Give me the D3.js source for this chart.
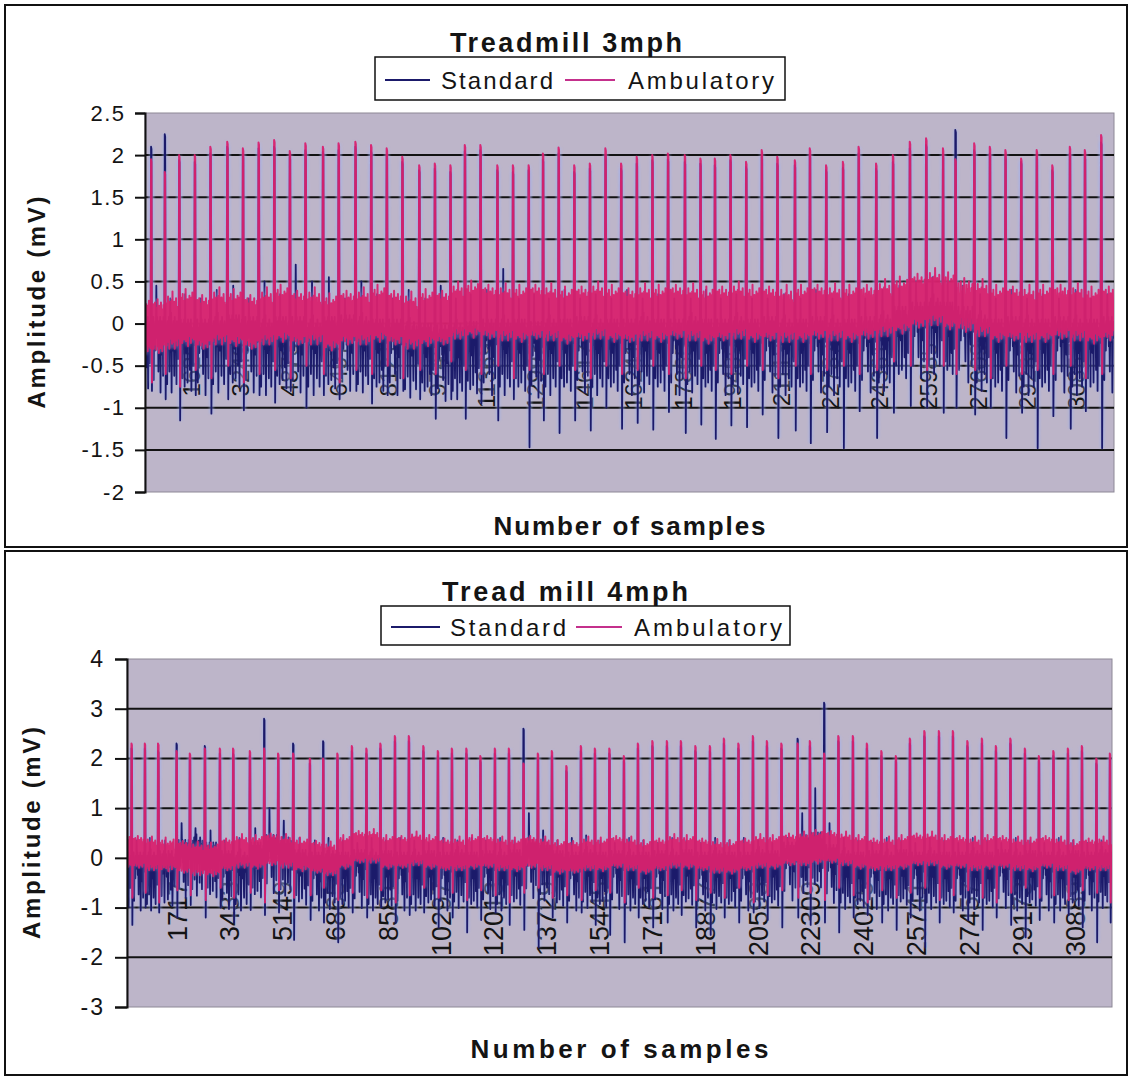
<!DOCTYPE html>
<html>
<head>
<meta charset="utf-8">
<script src="https://cdn.jsdelivr.net/npm/d3@7"></script>
<style>
  body { margin: 0; background: #fff; }
  text { font-family: "Liberation Sans", Arial, sans-serif; fill: #141414; }
</style>
</head>
<body>
<svg id="chart" width="1130" height="1078"></svg>
<script>
// ---------------- data ----------------
const seriesNames = ["Standard", "Ambulatory"];
const sampleCount = 32000;

// Treadmill 3 mph: beat (R-wave) sample positions and per-beat amplitudes in mV
const beats3 = [208,660,1136,1651,2166,2724,3240,3758,4273,4788,5304,5882,6400,6955,7473,7989,8504,9062,9577,10092,
  10568,11083,11641,12156,12675,13147,13665,14181,14696,15211,15729,16245,16760,17275,17833,18348,18824,19339,19857,20373,
  20888,21466,21961,22499,23054,23573,24150,24705,25263,25802,26357,26769,27390,27905,28420,28939,29454,29969,30547,31043,31581];
const amb3R = [1.95,1.8,2.0,2.0,2.1,2.16,2.08,2.15,2.18,2.05,2.14,2.1,2.14,2.16,2.12,2.08,1.98,1.88,1.9,1.88,
  2.12,2.12,1.88,1.88,1.88,2.02,2.09,1.88,1.9,2.08,1.9,1.98,2.0,2.02,2.0,1.96,1.96,2.0,1.92,2.06,
  1.98,1.94,2.08,1.88,1.92,2.1,1.9,2.0,2.16,2.2,2.08,1.95,2.14,2.1,2.06,1.96,2.06,1.88,2.1,2.06,2.24];
const amb3S = [-0.7,-0.6,-0.75,-0.55,-0.65,-0.5,-0.7,-0.6,-0.55,-0.65,-0.5,-0.6,-0.7,-0.55,-0.6,-0.5,-0.65,-0.55,-0.6,-0.45,
  -0.55,-0.6,-0.5,-0.65,-0.55,-0.6,-0.5,-0.55,-0.65,-0.5,-0.6,-0.55,-0.5,-0.6,-0.65,-0.5,-0.55,-0.6,-0.5,-0.55,
  -0.65,-0.5,-0.6,-0.55,-0.5,-0.6,-0.55,-0.45,-0.5,-0.55,-0.5,-0.6,-0.55,-0.65,-0.5,-0.6,-0.55,-0.6,-0.5,-0.65,-0.6];
const amb3Base = [-0.05,0.0,0.05,0.0,0.05,0.05,0.0,0.05,0.1,0.05,0.05,0.0,0.05,0.05,0.1,0.05,0.0,0.05,0.05,0.12,
  0.15,0.12,0.1,0.1,0.12,0.1,0.08,0.1,0.12,0.1,0.08,0.1,0.1,0.12,0.1,0.08,0.1,0.12,0.1,0.1,
  0.08,0.1,0.12,0.1,0.1,0.12,0.15,0.2,0.25,0.28,0.25,0.2,0.15,0.1,0.1,0.08,0.1,0.12,0.1,0.08,0.1];
const std3R = [2.1,2.25,1.94,1.92,2.02,2.1,2.0,2.08,2.1,1.98,2.06,2.04,2.06,2.1,2.05,2.0,1.92,1.82,1.84,1.8,
  2.05,2.06,1.82,1.8,1.82,1.95,2.02,1.8,1.84,2.0,1.84,1.9,1.94,1.95,1.92,1.9,1.88,1.94,1.86,1.98,
  1.9,1.88,2.0,1.82,1.85,2.02,1.84,1.92,2.08,2.12,2.0,2.3,2.06,2.02,1.98,1.92,1.98,1.82,2.02,1.98,2.15];
const std3S = [-0.8,-0.9,-1.15,-0.85,-1.07,-0.9,-1.03,-0.85,-0.94,-0.8,-1.0,-0.85,-0.9,-0.8,-0.95,-0.85,-0.8,-0.9,-1.13,-0.9,
  -1.13,-0.95,-1.15,-0.9,-1.47,-1.15,-1.3,-1.15,-1.27,-1.0,-1.25,-1.18,-1.26,-1.05,-1.3,-1.2,-1.37,-1.21,-1.23,-1.08,
  -1.36,-1.27,-1.42,-1.29,-1.48,-1.04,-1.36,-1.06,-0.98,-1.0,-1.06,-1.0,-1.08,-1.0,-1.36,-1.06,-1.48,-1.1,-1.25,-1.04,-1.48];
const std3Base = [-0.12,-0.12,-0.15,-0.15,-0.12,-0.1,-0.12,-0.15,-0.12,-0.12,-0.15,-0.12,-0.1,-0.12,-0.15,-0.15,-0.18,-0.2,-0.22,-0.2,
  -0.18,-0.15,-0.15,-0.15,-0.18,-0.15,-0.15,-0.12,-0.15,-0.15,-0.15,-0.12,-0.15,-0.15,-0.12,-0.15,-0.15,-0.12,-0.15,-0.12,
  -0.15,-0.15,-0.12,-0.15,-0.15,-0.12,-0.1,0.0,0.05,0.1,0.05,0.0,-0.1,-0.15,-0.12,-0.15,-0.15,-0.12,-0.15,-0.15,-0.12];
const std3T = [0.45,0.3,0.35,0.3,0.4,0.45,0.3,0.5,0.35,0.7,0.5,0.55,0.3,0.5,0.35,0.3,0.4,0.3,0.45,0.3,
  0.35,0.4,0.65,0.3,0.35,0.3,0.4,0.3,0.35,0.3,0.4,0.3,0.35,0.3,0.3,0.4,0.3,0.35,0.3,0.3,
  0.35,0.3,0.4,0.3,0.35,0.3,0.4,0.45,0.5,0.55,0.5,0.45,0.35,0.3,0.4,0.3,0.35,0.3,0.4,0.3,0.35];
const xTicks3 = [1625,3249,4873,6497,8121,9745,11369,12993,14617,16241,17865,19489,21113,22737,24361,25985,27609,29233,30857];
const yTicks3 = [-2,-1.5,-1,-0.5,0,0.5,1,1.5,2,2.5];

// Treadmill 4 mph
const beats4 = [153,585,1017,1615,2047,2534,3021,3453,3996,4461,4915,5403,5945,6377,6839,7310,7781,8236,8707,9161,
  9632,10103,10558,11029,11484,11955,12410,12885,13352,13807,14278,14749,15204,15675,16146,16601,17072,17543,17998,18469,
  18940,19395,19866,20337,20792,21263,21789,22188,22653,23114,23585,24040,24511,24982,25437,25908,26380,26834,27305,27776,
  28231,28702,29173,29628,30099,30570,31025,31496,31935];
const amb4R = [2.3,2.3,2.3,2.15,2.1,2.2,2.2,2.2,2.15,2.2,2.1,2.1,2.0,2.0,2.1,2.25,2.2,2.3,2.45,2.45,
  2.25,2.15,2.2,2.2,2.05,2.2,2.2,1.9,2.1,2.15,1.85,2.25,2.2,2.2,2.05,2.3,2.35,2.35,2.35,2.25,
  2.25,2.4,2.3,2.45,2.35,2.3,2.3,2.35,2.1,2.45,2.45,2.3,2.15,2.05,2.4,2.55,2.55,2.55,2.35,2.4,
  2.25,2.4,2.2,2.05,2.15,2.2,2.25,2.0,2.1];
const amb4S = [-0.8,-0.7,-0.9,-0.65,-0.75,-0.85,-0.6,-0.8,-0.7,-0.9,-0.65,-0.8,-0.75,-0.6,-0.85,-0.7,-0.8,-0.65,-0.9,-0.75,
  -0.6,-0.8,-0.7,-0.85,-0.65,-0.75,-0.9,-0.7,-0.6,-0.8,-0.75,-0.85,-0.65,-0.7,-0.9,-0.6,-0.8,-0.75,-0.65,-0.85,
  -0.7,-0.8,-0.6,-0.9,-0.75,-0.65,-0.8,-0.7,-0.85,-0.6,-0.75,-0.9,-0.65,-0.8,-0.7,-0.6,-0.85,-0.75,-0.65,-0.8,
  -0.9,-0.7,-0.6,-0.8,-0.75,-0.85,-0.65,-0.7,-0.9];
const amb4Base = [0.1,0.05,0.05,0.0,-0.05,-0.05,0.05,0.1,0.1,0.15,0.1,0.05,0.0,-0.05,0.1,0.2,0.2,0.1,0.1,0.15,
  0.1,0.05,0.05,0.1,0.1,0.05,0.05,0.1,0.05,0.0,0.0,0.05,0.05,0.1,0.05,0.0,0.05,0.1,0.1,0.05,
  0.0,0.0,0.05,0.1,0.1,0.15,0.15,0.2,0.2,0.15,0.1,0.05,0.05,0.1,0.15,0.15,0.1,0.1,0.05,0.1,
  0.1,0.05,0.05,0.1,0.05,0.0,0.05,0.05,0.0];
const std4R = [2.2,2.2,2.15,2.3,2.0,2.25,2.1,2.1,2.05,2.8,2.0,2.3,1.9,2.35,2.0,2.15,2.1,2.2,2.35,2.35,
  2.15,2.05,2.1,2.1,1.95,2.1,2.1,2.6,2.0,2.05,1.75,2.15,2.1,2.1,1.95,2.2,2.25,2.25,2.25,2.15,
  2.15,2.3,2.2,2.35,2.25,2.2,2.4,2.25,3.12,2.35,2.35,2.2,2.05,1.95,2.3,2.45,2.45,2.45,2.25,2.3,
  2.15,2.3,2.1,1.95,2.05,2.1,2.15,1.9,2.0];
const std4S = [-1.35,-1.0,-1.1,-1.2,-0.95,-1.2,-1.0,-1.3,-1.05,-1.15,-1.1,-1.65,-1.25,-1.3,-1.7,-1.1,-1.2,-1.0,-1.3,-1.15,
  -1.1,-1.4,-1.2,-1.5,-1.25,-1.1,-1.35,-1.45,-1.8,-1.2,-1.3,-1.1,-1.35,-1.55,-1.7,-1.2,-1.4,-1.3,-1.15,-1.4,
  -1.55,-1.2,-1.3,-1.1,-1.25,-1.4,-1.2,-1.35,-1.3,-1.5,-1.2,-1.15,-1.3,-1.45,-1.2,-1.8,-1.3,-1.1,-1.25,-1.45,
  -1.2,-1.35,-1.6,-1.25,-1.3,-1.15,-1.4,-1.7,-1.3];
const std4Base = [-0.15,-0.15,-0.12,0.1,0.15,0.05,-0.12,-0.15,0.05,0.2,0.15,-0.1,-0.15,-0.12,-0.15,-0.1,-0.15,-0.12,-0.15,-0.15,
  -0.12,-0.15,-0.1,-0.15,-0.12,-0.15,-0.1,0.1,0.05,-0.12,-0.15,-0.1,-0.15,-0.12,-0.15,-0.15,-0.12,-0.15,-0.1,-0.15,
  -0.12,-0.15,-0.15,-0.1,-0.12,0.05,0.2,0.25,0.0,-0.12,-0.15,-0.12,-0.15,-0.1,-0.15,-0.12,-0.15,-0.15,-0.12,-0.15,
  -0.1,-0.15,-0.12,-0.15,-0.15,-0.12,-0.15,-0.1,-0.15];
const std4T = [0.35,0.4,0.35,0.7,0.6,0.55,0.35,0.4,0.6,1.0,0.75,0.4,0.35,0.4,0.35,0.3,0.4,0.35,0.4,0.35,
  0.3,0.4,0.35,0.4,0.35,0.4,0.35,0.9,0.55,0.35,0.4,0.45,0.35,0.3,0.4,0.35,0.3,0.4,0.35,0.3,
  0.4,0.35,0.4,0.35,0.3,0.4,0.9,1.4,0.7,0.4,0.35,0.3,0.4,0.35,0.3,0.4,0.35,0.3,0.4,0.35,
  0.3,0.4,0.35,0.3,0.4,0.35,0.3,0.35,0.3];
const xTicks4 = [1717,3433,5149,6865,8581,10297,12013,13729,15445,17161,18877,20593,22309,24025,25741,27457,29173,30889];
const yTicks4 = [-3,-2,-1,0,1,2,3,4];

// muscle-noise excursions (mV) through one inter-beat interval, three variants per lead
const ambShapes = [
  [0.22,-0.18,0.28,-0.25,0.12,-0.2,0.3,-0.12,0.18,-0.26,0.24,-0.16,0.34,-0.22,0.14,-0.3,0.26,-0.1,0.2,-0.24,0.3,-0.18,0.16,-0.28,0.22,-0.14,0.27,-0.2],
  [0.18,-0.26,0.24,-0.14,0.32,-0.22,0.16,-0.3,0.26,-0.18,0.2,-0.12,0.28,-0.24,0.38,-0.16,0.14,-0.22,0.26,-0.3,0.18,-0.2,0.3,-0.1,0.2,-0.26,0.16,-0.18],
  [0.26,-0.14,0.2,-0.28,0.3,-0.18,0.22,-0.24,0.14,-0.2,0.36,-0.26,0.2,-0.16,0.24,-0.32,0.18,-0.2,0.28,-0.14,0.22,-0.28,0.26,-0.18,0.32,-0.22,0.12,-0.24]
];
const stdShapes = [
  [0.15,-0.1,0.2,-0.55,0.05,0.1,-0.2,0.15,-0.05,-0.65,0.1,0.2,-0.15,0.05,-0.45,0.15,0.0,-0.1,0.2,-0.7,0.1,-0.05,0.15,-0.25,0.05,-0.5,0.2,-0.1],
  [0.1,-0.2,-0.6,0.15,0.05,-0.1,0.2,-0.45,0.1,0.0,-0.15,0.25,-0.7,0.05,0.1,-0.2,0.15,-0.05,-0.5,0.2,0.05,-0.1,0.1,-0.6,0.15,-0.05,0.1,-0.3],
  [0.2,-0.05,0.1,-0.5,0.15,-0.15,0.05,0.2,-0.6,0.1,-0.1,0.15,-0.2,0.05,-0.55,0.2,0.1,-0.05,0.15,-0.4,0.0,0.2,-0.65,0.1,-0.1,0.05,-0.35,0.15]
];

// ---------------- layout ----------------
const charts = [
  {
    title: "Treadmill  3mph", titleX: 450, titleLen: 232, titleY: 52,
    frame: {x: 5, y: 5, w: 1122, h: 542},
    plot: {left: 145, top: 113, right: 1114, bottom: 492},
    yDomain: [-2, 2.5], yTicks: yTicks3, xTicks: xTicks3,
    tickLen: 10, tickPad: 11, yFont: 22, yLs: 1.5,
    xLabelTop: 343, xFont: 24,
    legend: {x: 375, y: 57, w: 410, h: 43, base: 89, l1: [385, 430], t1: [441, 112], l2: [565, 615], t2: [628, 146]},
    yTitle: {x: 45, len: 212}, xTitle: {y: 535, len: 272},
    beats: beats3,
    std: {R: std3R, S: std3S, base: std3Base, T: std3T, scale: 1.0},
    amb: {R: amb3R, S: amb3S, base: amb3Base, scale: 1.0}
  },
  {
    title: "Tread mill 4mph", titleX: 442, titleLen: 246, titleY: 601,
    frame: {x: 5, y: 551, w: 1122, h: 524},
    plot: {left: 127, top: 659, right: 1112, bottom: 1007},
    yDomain: [-3, 4], yTicks: yTicks4, xTicks: xTicks4,
    tickLen: 12, tickPad: 12, yFont: 23, yLs: 2,
    xLabelTop: 881, xFont: 27,
    legend: {x: 381, y: 606, w: 409, h: 39, base: 636, l1: [391, 440], t1: [450, 116], l2: [576, 622], t2: [634, 148]},
    yTitle: {x: 40, len: 212}, xTitle: {y: 1058, len: 298},
    beats: beats4,
    std: {R: std4R, S: std4S, base: std4Base, T: std4T, scale: 1.3},
    amb: {R: amb4R, S: amb4S, base: amb4Base, scale: 1.0}
  }
];

const colStd = "#1b1a6a";
const colAmb = "#da1d6a";

const svg = d3.select("#chart");
const defs = svg.append("defs");
defs.append("filter").attr("id", "halo").attr("x", "-2%").attr("y", "-2%").attr("width", "104%").attr("height", "104%")
  .append("feGaussianBlur").attr("stdDeviation", 1.3);

// one ECG trace: Q - R - S complex at each beat, noise between beats
function buildTrace(beats, lead, shapes, n) {
  const pts = [];
  const K = shapes[0].length;
  const last = beats.length - 1;
  const fill = (t0, rr, b, shape, tPeak) => {
    for (let k = 0; k < K; k++) {
      const t = t0 + (0.09 + 0.835 * k / (K - 1)) * rr;
      let v = b + shape[k] * lead.scale;
      if (tPeak != null && k === 9) v = tPeak;
      if (t >= 1 && t <= n) pts.push([t, v]);
    }
  };
  const rr0 = beats[1] - beats[0];
  fill(beats[0] - rr0, rr0, lead.base[0], shapes[2], null);
  pts.push([Math.max(1, beats[0] - 0.045 * rr0), lead.base[0] - 0.08]);
  beats.forEach((t, i) => {
    const rr = i < last ? beats[i + 1] - t : t - beats[i - 1];
    pts.push([t - 0.016 * rr, lead.R[i]]);
    pts.push([t + 0.016 * rr, lead.R[i] - 0.03]);
    pts.push([t + 0.05 * rr, lead.S[i]]);
    fill(t, rr, lead.base[i], shapes[i % shapes.length], lead.T ? lead.T[i] : null);
    const q = t + 0.955 * rr;
    if (q <= n) pts.push([q, lead.base[i] - 0.08]);
  });
  return pts;
}

charts.forEach((c, ci) => {
  const g = svg.append("g");
  const p = c.plot;

  // outer frame
  g.append("rect").attr("x", c.frame.x).attr("y", c.frame.y).attr("width", c.frame.w).attr("height", c.frame.h)
    .attr("fill", "#fff").attr("stroke", "#111").attr("stroke-width", 2);

  const x = d3.scaleLinear().domain([1, sampleCount]).range([p.left, p.right]);
  const y = d3.scaleLinear().domain(c.yDomain).range([p.bottom, p.top]);

  // plot area
  g.append("rect").attr("x", p.left).attr("y", p.top).attr("width", p.right - p.left).attr("height", p.bottom - p.top)
    .attr("fill", "#bdb5c9").attr("stroke", "#8d8896").attr("stroke-width", 1);

  // gridlines
  g.append("g").selectAll("line").data(c.yTicks.filter(v => v > c.yDomain[0] && v < c.yDomain[1])).join("line")
    .attr("x1", p.left).attr("x2", p.right).attr("y1", d => y(d)).attr("y2", d => y(d))
    .attr("stroke", "#121212").attr("stroke-width", 2);

  // category labels (drawn beneath the traces)
  const xAxis = g.append("g").attr("transform", `translate(0,${c.xLabelTop})`)
    .call(d3.axisBottom(x).tickValues(c.xTicks).tickSize(0).tickFormat(d => String(d)));
  xAxis.select(".domain").remove();
  xAxis.selectAll("text")
    .attr("transform", "rotate(-90)")
    .attr("text-anchor", "end")
    .attr("x", 0).attr("y", 0).attr("dx", 0).attr("dy", "0.36em")
    .style("font-family", '"Liberation Sans", Arial, sans-serif')
    .style("font-size", c.xFont + "px")
    .attr("fill", "#202020");
  xAxis.selectAll(".tick").attr("transform", d => `translate(${x(d) - 3},0)`);

  // traces
  const clipId = "clip" + ci;
  defs.append("clipPath").attr("id", clipId).append("rect")
    .attr("x", p.left).attr("y", p.top).attr("width", p.right - p.left).attr("height", p.bottom - p.top);
  const line = d3.line().x(d => x(d[0])).y(d => y(d[1]));
  const traces = g.append("g").attr("clip-path", `url(#${clipId})`);
  const stdPts = buildTrace(c.beats, c.std, stdShapes, sampleCount);
  const ambPts = buildTrace(c.beats, c.amb, ambShapes, sampleCount);
  traces.append("path").attr("d", line(stdPts)).attr("fill", "none")
    .attr("stroke", "#98aef0").attr("stroke-width", 4.5).attr("opacity", 0.45).attr("filter", "url(#halo)");
  traces.append("path").attr("d", line(stdPts)).attr("fill", "none")
    .attr("stroke", colStd).attr("stroke-width", 1.8).attr("stroke-linejoin", "round");
  traces.append("path").attr("d", line(ambPts)).attr("fill", "none")
    .attr("stroke", "#a9b4ee").attr("stroke-width", 5).attr("opacity", 0.35).attr("filter", "url(#halo)");
  traces.append("path").attr("d", line(ambPts)).attr("fill", "none")
    .attr("stroke", colAmb).attr("stroke-width", 2).attr("stroke-linejoin", "round").attr("opacity", 0.92);

  // value axis
  const yAxis = g.append("g").attr("transform", `translate(${p.left},0)`)
    .call(d3.axisLeft(y).tickValues(c.yTicks).tickSize(c.tickLen).tickPadding(c.tickPad).tickFormat(d => String(d)));
  yAxis.select(".domain").attr("stroke", "#111").attr("stroke-width", 2);
  yAxis.selectAll(".tick line").attr("stroke", "#111").attr("stroke-width", 2);
  yAxis.selectAll("text")
    .style("font-family", '"Liberation Sans", Arial, sans-serif')
    .style("font-size", c.yFont + "px")
    .style("letter-spacing", c.yLs + "px")
    .attr("dx", c.yLs)
    .attr("fill", "#1a1a1a");

  // title
  g.append("text").attr("x", c.titleX).attr("y", c.titleY)
    .attr("textLength", c.titleLen).attr("lengthAdjust", "spacing")
    .style("font-size", "27px").style("font-weight", "bold").text(c.title);

  // legend
  const L = c.legend;
  const lg = g.append("g");
  lg.append("rect").attr("x", L.x).attr("y", L.y).attr("width", L.w).attr("height", L.h)
    .attr("fill", "#fff").attr("stroke", "#111").attr("stroke-width", 1.5);
  const items = [
    {name: seriesNames[0], col: colStd, l: L.l1, t: L.t1},
    {name: seriesNames[1], col: "#c4308c", l: L.l2, t: L.t2}
  ];
  items.forEach(it => {
    lg.append("line").attr("x1", it.l[0]).attr("x2", it.l[1]).attr("y1", L.base - 9).attr("y2", L.base - 9)
      .attr("stroke", it.col).attr("stroke-width", 2);
    lg.append("text").attr("x", it.t[0]).attr("y", L.base)
      .attr("textLength", it.t[1]).attr("lengthAdjust", "spacing")
      .style("font-size", "24px").text(it.name);
  });

  // axis titles
  const cy = (p.top + p.bottom) / 2;
  g.append("text").attr("transform", `translate(${c.yTitle.x},${cy}) rotate(-90)`)
    .attr("text-anchor", "middle").attr("textLength", c.yTitle.len).attr("lengthAdjust", "spacing")
    .style("font-size", "24px").style("font-weight", "bold").text("Amplitude (mV)");
  g.append("text").attr("x", (p.left + p.right) / 2).attr("y", c.xTitle.y)
    .attr("text-anchor", "middle").attr("textLength", c.xTitle.len).attr("lengthAdjust", "spacing")
    .style("font-size", "26px").style("font-weight", "bold").text("Number of samples");
});
</script>
</body>
</html>
